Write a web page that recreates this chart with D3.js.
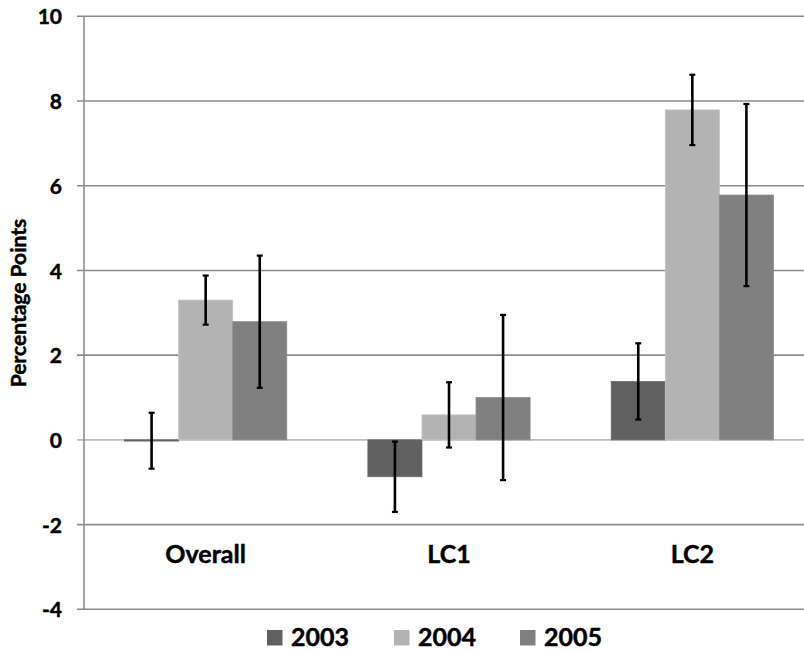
<!DOCTYPE html>
<html>
<head>
<meta charset="utf-8">
<script src="https://cdn.jsdelivr.net/npm/d3@7"></script>
<style>
  html, body { margin: 0; padding: 0; background: #fff; }
  svg { display: block; font-family: Lato, "Open Sans", sans-serif; font-weight: bold; }
  svg text { stroke: #000; stroke-width: 0.45px; paint-order: stroke fill; }
</style>
</head>
<body>
<svg id="chart" width="804" height="651"></svg>
<script>
const categories = ["Overall", "LC1", "LC2"];
const seriesNames = ["2003", "2004", "2005"];
const values2003 = [-0.02, -0.87, 1.38];
const values2004 = [3.30, 0.59, 7.79];
const values2005 = [2.79, 1.00, 5.78];
const errors2003 = [0.66, 0.83, 0.90];
const errors2004 = [0.58, 0.77, 0.83];
const errors2005 = [1.56, 1.95, 2.15];
const colors = ["#606060", "#b3b3b3", "#808080"];
const yTicks = [-4, -2, 0, 2, 4, 6, 8, 10];
const yTitle = "Percentage Points";

const allValues = [values2003, values2004, values2005];
const allErrors = [errors2003, errors2004, errors2005];
const data = [];
categories.forEach((c, i) => {
  seriesNames.forEach((s, j) => {
    data.push({ cat: c, series: s, idx: j, value: allValues[j][i], err: allErrors[j][i] });
  });
});

const svg = d3.select("#chart");
const W = 804;
const plotLeft = 84, plotRight = 814, plotTop = 16.3, plotBottom = 609.3;

const y = d3.scaleLinear().domain([-4, 10]).range([plotBottom, plotTop]);
const x0 = d3.scaleBand().domain(categories).range([plotLeft, plotRight]).padding(0);
const band = x0.bandwidth();
const gap = band * 1.5 / 4.5;
const x1 = d3.scaleBand().domain(seriesNames).range([gap / 2, band - gap / 2]).padding(0);

// gridlines
const grid = svg.append("g");
grid.selectAll("line").data(yTicks).join("line")
  .attr("x1", plotLeft - 7).attr("x2", W)
  .attr("y1", d => y(d)).attr("y2", d => y(d))
  .attr("stroke", d => d === 0 ? "#bdbdbd" : "#8c8c8c")
  .attr("stroke-width", 1.6);

// y axis line
svg.append("line")
  .attr("x1", plotLeft).attr("x2", plotLeft)
  .attr("y1", plotTop).attr("y2", plotBottom)
  .attr("stroke", "#8c8c8c").attr("stroke-width", 1.6);

// y axis labels using d3 axis
const yAxis = d3.axisLeft(y).tickValues(yTicks).tickSize(0).tickPadding(22).tickFormat(d => String(d));
const ya = svg.append("g").attr("transform", `translate(${plotLeft},0)`).call(yAxis);
ya.select(".domain").remove();
ya.selectAll("text").attr("font-size", 21).attr("font-family", "Lato, sans-serif")
  .attr("font-weight", "bold").attr("fill", "#000").attr("dy", "0.36em");

// bars
const bars = svg.append("g");
bars.selectAll("rect").data(data).join("rect")
  .attr("x", d => x0(d.cat) + x1(d.series))
  .attr("width", x1.bandwidth())
  .attr("y", d => Math.min(y(d.value), y(0)))
  .attr("height", d => Math.max(1.2, Math.abs(y(d.value) - y(0))))
  .attr("fill", d => colors[d.idx])
  .attr("stroke", d => d3.color(colors[d.idx]).brighter(0.25))
  .attr("stroke-width", 0.8);

// error bars
const eb = svg.append("g").attr("stroke", "#000");
const cx = d => x0(d.cat) + x1(d.series) + x1.bandwidth() / 2;
eb.selectAll("line.v").data(data).join("line").attr("class", "v")
  .attr("x1", cx).attr("x2", cx)
  .attr("y1", d => y(d.value + d.err)).attr("y2", d => y(d.value - d.err))
  .attr("stroke-width", 2.6);
eb.selectAll("line.t").data(data).join("line").attr("class", "t")
  .attr("x1", d => cx(d) - 3).attr("x2", d => cx(d) + 3)
  .attr("y1", d => y(d.value + d.err)).attr("y2", d => y(d.value + d.err))
  .attr("stroke-width", 2.2);
eb.selectAll("line.b").data(data).join("line").attr("class", "b")
  .attr("x1", d => cx(d) - 3).attr("x2", d => cx(d) + 3)
  .attr("y1", d => y(d.value - d.err)).attr("y2", d => y(d.value - d.err))
  .attr("stroke-width", 2.2);

// category labels
svg.append("g").selectAll("text").data(categories).join("text")
  .attr("x", d => x0(d) + band / 2)
  .attr("y", 563)
  .attr("text-anchor", "middle")
  .attr("font-size", 25)
  .attr("fill", "#000")
  .text(d => d);

// y title
svg.append("text")
  .attr("transform", "translate(26,303) rotate(-90)")
  .attr("text-anchor", "middle")
  .attr("font-size", 21)
  .attr("fill", "#000")
  .text(yTitle);

// legend
const legendX = [267, 394, 520];
const lg = svg.append("g");
seriesNames.forEach((s, i) => {
  lg.append("rect").attr("x", legendX[i]).attr("y", 630).attr("width", 15.5).attr("height", 15.5)
    .attr("fill", colors[i]);
  lg.append("text").attr("x", legendX[i] + 24).attr("y", 646)
    .attr("font-size", 25).attr("fill", "#000").text(s);
});
</script>
</body>
</html>
